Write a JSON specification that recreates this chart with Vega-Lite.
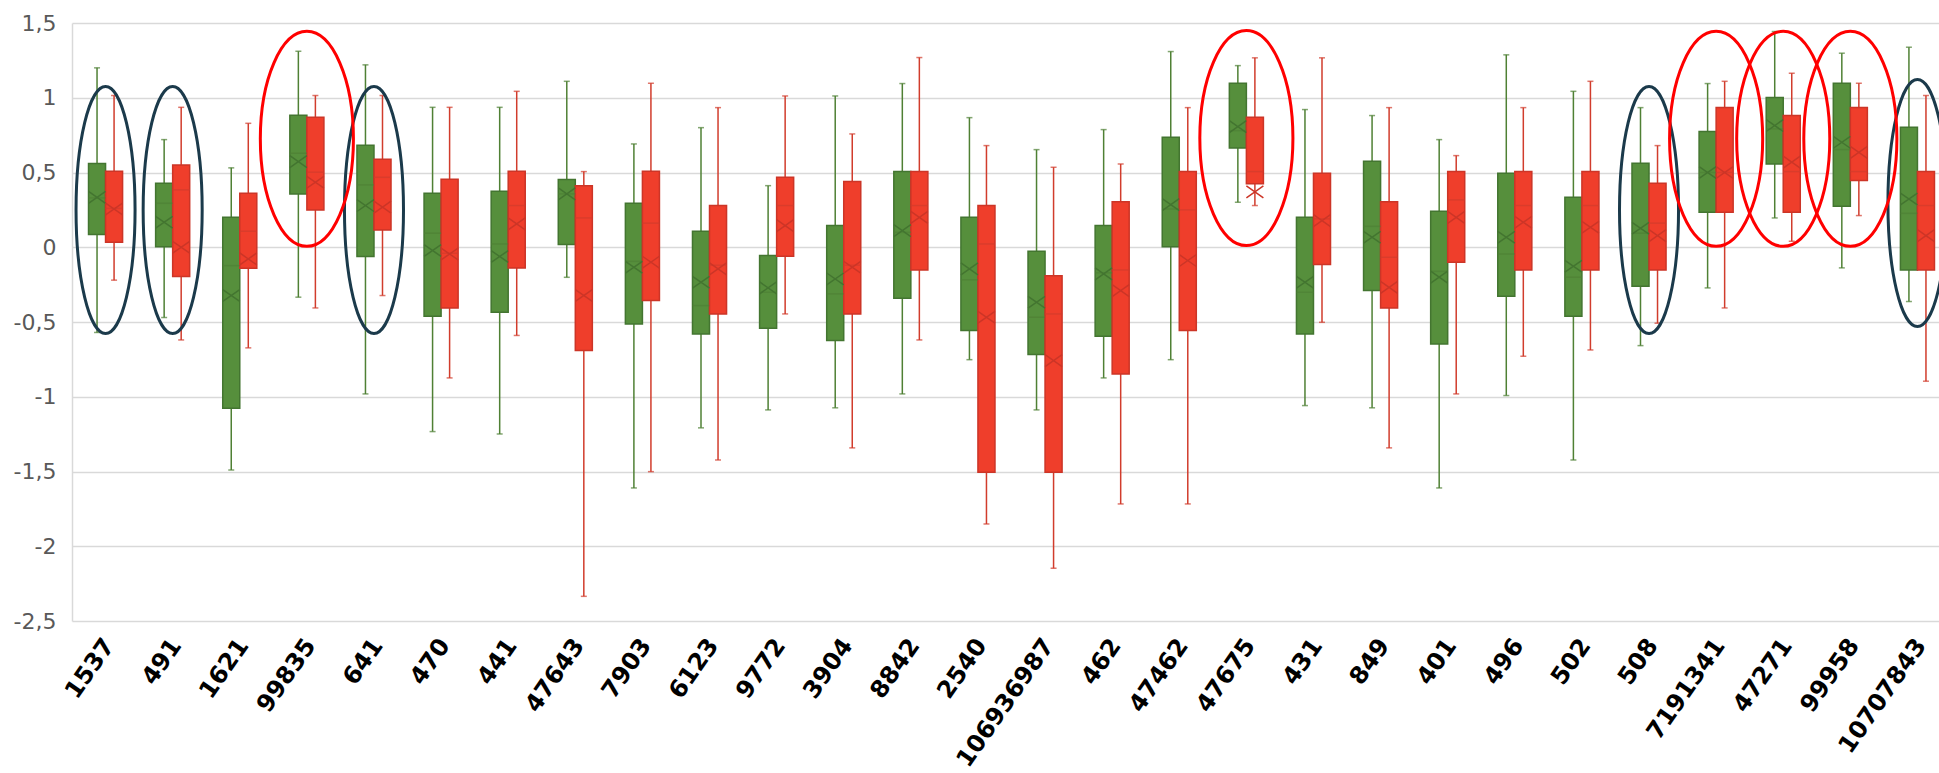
{
  "$schema": "https://vega.github.io/schema/vega-lite/v6.json",
  "width": 1867,
  "height": 598,
  "autosize": {"type": "none"},
  "padding": {"left": 72, "top": 23, "right": 0, "bottom": 152},
  "background": "white",
  "config": {"view": {"stroke": null}, "font": "DejaVu Sans"},
  "datasets": {
    "boxes": [
      {"cat": "1537", "series": "A", "min": -0.57, "q1": 0.085, "median": 0.33, "q3": 0.56, "max": 1.2, "mean": 0.334},
      {"cat": "1537", "series": "B", "min": -0.22, "q1": 0.033, "median": 0.26, "q3": 0.508, "max": 1.015, "mean": 0.256},
      {"cat": "491", "series": "A", "min": -0.47, "q1": 0.004, "median": 0.294, "q3": 0.428, "max": 0.72, "mean": 0.167},
      {"cat": "491", "series": "B", "min": -0.62, "q1": -0.196, "median": 0.384, "q3": 0.551, "max": 0.936, "mean": 0.0},
      {"cat": "1621", "series": "A", "min": -1.49, "q1": -1.077, "median": -0.123, "q3": 0.2, "max": 0.531, "mean": -0.323},
      {"cat": "1621", "series": "B", "min": -0.673, "q1": -0.14, "median": 0.107, "q3": 0.361, "max": 0.829, "mean": -0.078},
      {"cat": "99835", "series": "A", "min": -0.334, "q1": 0.357, "median": 0.629, "q3": 0.883, "max": 1.311, "mean": 0.573},
      {"cat": "99835", "series": "B", "min": -0.406, "q1": 0.25, "median": 0.502, "q3": 0.87, "max": 1.015, "mean": 0.435},
      {"cat": "641", "series": "A", "min": -0.981, "q1": -0.062, "median": 0.417, "q3": 0.682, "max": 1.22, "mean": 0.279},
      {"cat": "641", "series": "B", "min": -0.323, "q1": 0.116, "median": 0.468, "q3": 0.589, "max": 1.015, "mean": 0.268},
      {"cat": "470", "series": "A", "min": -1.233, "q1": -0.462, "median": 0.094, "q3": 0.361, "max": 0.936, "mean": -0.022},
      {"cat": "470", "series": "B", "min": -0.874, "q1": -0.406, "median": -0.04, "q3": 0.455, "max": 0.936, "mean": -0.045},
      {"cat": "441", "series": "A", "min": -1.249, "q1": -0.435, "median": 0.022, "q3": 0.375, "max": 0.936, "mean": -0.062},
      {"cat": "441", "series": "B", "min": -0.59, "q1": -0.138, "median": 0.279, "q3": 0.508, "max": 1.043, "mean": 0.156},
      {"cat": "47643", "series": "A", "min": -0.201, "q1": 0.018, "median": 0.357, "q3": 0.453, "max": 1.11, "mean": 0.357},
      {"cat": "47643", "series": "B", "min": -2.335, "q1": -0.691, "median": 0.196, "q3": 0.412, "max": 0.506, "mean": -0.323},
      {"cat": "7903", "series": "A", "min": -1.61, "q1": -0.513, "median": -0.094, "q3": 0.294, "max": 0.691, "mean": -0.134},
      {"cat": "7903", "series": "B", "min": -1.501, "q1": -0.357, "median": 0.161, "q3": 0.508, "max": 1.097, "mean": -0.1},
      {"cat": "6123", "series": "A", "min": -1.208, "q1": -0.58, "median": -0.39, "q3": 0.107, "max": 0.8, "mean": -0.234},
      {"cat": "6123", "series": "B", "min": -1.423, "q1": -0.446, "median": -0.12, "q3": 0.279, "max": 0.934, "mean": -0.145},
      {"cat": "9772", "series": "A", "min": -1.088, "q1": -0.542, "median": -0.301, "q3": -0.056, "max": 0.412, "mean": -0.272},
      {"cat": "9772", "series": "B", "min": -0.446, "q1": -0.06, "median": 0.279, "q3": 0.468, "max": 1.012, "mean": 0.145},
      {"cat": "3904", "series": "A", "min": -1.074, "q1": -0.624, "median": -0.312, "q3": 0.145, "max": 1.012, "mean": -0.212},
      {"cat": "3904", "series": "B", "min": -1.342, "q1": -0.446, "median": -0.12, "q3": 0.439, "max": 0.758, "mean": -0.134},
      {"cat": "8842", "series": "A", "min": -0.981, "q1": -0.341, "median": 0.1, "q3": 0.506, "max": 1.095, "mean": 0.111},
      {"cat": "8842", "series": "B", "min": -0.62, "q1": -0.152, "median": 0.279, "q3": 0.506, "max": 1.269, "mean": 0.2},
      {"cat": "2540", "series": "A", "min": -0.752, "q1": -0.557, "median": -0.218, "q3": 0.2, "max": 0.867, "mean": -0.145},
      {"cat": "2540", "series": "B", "min": -1.851, "q1": -1.505, "median": 0.022, "q3": 0.279, "max": 0.68, "mean": -0.468},
      {"cat": "106936987", "series": "A", "min": -1.088, "q1": -0.718, "median": -0.468, "q3": -0.027, "max": 0.653, "mean": -0.368},
      {"cat": "106936987", "series": "B", "min": -2.147, "q1": -1.505, "median": -0.446, "q3": -0.19, "max": 0.535, "mean": -0.758},
      {"cat": "462", "series": "A", "min": -0.874, "q1": -0.595, "median": -0.17, "q3": 0.145, "max": 0.787, "mean": -0.178},
      {"cat": "462", "series": "B", "min": -1.717, "q1": -0.847, "median": -0.152, "q3": 0.305, "max": 0.557, "mean": -0.29},
      {"cat": "47462", "series": "A", "min": -0.752, "q1": 0.004, "median": 0.256, "q3": 0.736, "max": 1.309, "mean": 0.285},
      {"cat": "47462", "series": "B", "min": -1.717, "q1": -0.557, "median": 0.25, "q3": 0.506, "max": 0.934, "mean": -0.089},
      {"cat": "47675", "series": "A", "min": 0.301, "q1": 0.664, "median": 0.78, "q3": 1.097, "max": 1.215, "mean": 0.807},
      {"cat": "47675", "series": "B", "min": 0.279, "q1": 0.424, "median": 0.506, "q3": 0.87, "max": 1.267, "mean": 0.37},
      {"cat": "431", "series": "A", "min": -1.059, "q1": -0.58, "median": -0.301, "q3": 0.2, "max": 0.921, "mean": -0.234},
      {"cat": "431", "series": "B", "min": -0.502, "q1": -0.116, "median": 0.19, "q3": 0.495, "max": 1.267, "mean": 0.178},
      {"cat": "849", "series": "A", "min": -1.074, "q1": -0.29, "median": 0.14, "q3": 0.575, "max": 0.881, "mean": 0.067},
      {"cat": "849", "series": "B", "min": -1.342, "q1": -0.406, "median": -0.067, "q3": 0.305, "max": 0.934, "mean": -0.268},
      {"cat": "401", "series": "A", "min": -1.61, "q1": -0.647, "median": -0.161, "q3": 0.241, "max": 0.72, "mean": -0.2},
      {"cat": "401", "series": "B", "min": -0.981, "q1": -0.1, "median": 0.317, "q3": 0.506, "max": 0.613, "mean": 0.2},
      {"cat": "496", "series": "A", "min": -0.992, "q1": -0.328, "median": -0.045, "q3": 0.495, "max": 1.287, "mean": 0.067},
      {"cat": "496", "series": "B", "min": -0.729, "q1": -0.152, "median": 0.279, "q3": 0.506, "max": 0.934, "mean": 0.167},
      {"cat": "502", "series": "A", "min": -1.423, "q1": -0.462, "median": -0.2, "q3": 0.334, "max": 1.043, "mean": -0.127},
      {"cat": "502", "series": "B", "min": -0.687, "q1": -0.152, "median": 0.279, "q3": 0.506, "max": 1.11, "mean": 0.134},
      {"cat": "508", "series": "A", "min": -0.658, "q1": -0.261, "median": 0.094, "q3": 0.562, "max": 0.934, "mean": 0.127},
      {"cat": "508", "series": "B", "min": -0.508, "q1": -0.152, "median": 0.161, "q3": 0.428, "max": 0.68, "mean": 0.078},
      {"cat": "7191341", "series": "A", "min": -0.272, "q1": 0.234, "median": 0.5, "q3": 0.774, "max": 1.095, "mean": 0.5},
      {"cat": "7191341", "series": "B", "min": -0.406, "q1": 0.234, "median": 0.5, "q3": 0.934, "max": 1.11, "mean": 0.5},
      {"cat": "47271", "series": "A", "min": 0.196, "q1": 0.557, "median": 0.792, "q3": 1.001, "max": 1.443, "mean": 0.814},
      {"cat": "47271", "series": "B", "min": 0.04, "q1": 0.234, "median": 0.506, "q3": 0.881, "max": 1.164, "mean": 0.569},
      {"cat": "99958", "series": "A", "min": -0.138, "q1": 0.274, "median": 0.653, "q3": 1.097, "max": 1.298, "mean": 0.702},
      {"cat": "99958", "series": "B", "min": 0.212, "q1": 0.446, "median": 0.506, "q3": 0.934, "max": 1.097, "mean": 0.635},
      {"cat": "10707843", "series": "A", "min": -0.363, "q1": -0.152, "median": 0.227, "q3": 0.803, "max": 1.338, "mean": 0.323},
      {"cat": "10707843", "series": "B", "min": -0.896, "q1": -0.152, "median": 0.279, "q3": 0.506, "max": 1.015, "mean": 0.078}
    ],
    "rings": [
      {"cat": "1537", "kind": "navy", "yc": 0.249},
      {"cat": "491", "kind": "navy", "yc": 0.249},
      {"cat": "641", "kind": "navy", "yc": 0.249},
      {"cat": "508", "kind": "navy", "yc": 0.249},
      {"cat": "10707843", "kind": "navy", "yc": 0.296},
      {"cat": "99835", "kind": "red", "yc": 0.725},
      {"cat": "47675", "kind": "red", "yc": 0.73},
      {"cat": "7191341", "kind": "red", "yc": 0.725},
      {"cat": "47271", "kind": "red", "yc": 0.725},
      {"cat": "99958", "kind": "red", "yc": 0.725}
    ]
  },
  "data": {"name": "boxes"},
  "encoding": {
    "x": {
      "field": "cat",
      "type": "nominal",
      "title": null,
      "scale": {
        "domain": ["1537", "491", "1621", "99835", "641", "470", "441", "47643", "7903", "6123", "9772", "3904", "8842", "2540", "106936987", "462", "47462", "47675", "431", "849", "401", "496", "502", "508", "7191341", "47271", "99958", "10707843"],
        "range": [0, 1879],
        "paddingInner": 0,
        "paddingOuter": 0
      },
      "axis": {
        "labelAngle": -55,
        "labelFontSize": 24,
        "labelFontWeight": "bold",
        "labelColor": "#000000",
        "labelFont": "DejaVu Sans",
        "ticks": false,
        "tickSize": 0,
        "domain": false,
        "grid": false,
        "labelPadding": 20,
        "labelOffset": 4,
        "labelAlign": "right",
        "labelBaseline": "middle",
        "labelOverlap": false,
        "labelBound": false
      }
    }
  },
  "layer": [
    {
      "mark": {"type": "rule", "strokeWidth": 1.5},
      "encoding": {
        "xOffset": {"field": "series", "type": "nominal", "scale": {"domain": ["A", "B"], "paddingOuter": 0.97, "paddingInner": 0}},
        "y": {
          "field": "min",
          "type": "quantitative",
          "title": null,
          "scale": {"domain": [-2.5, 1.5], "nice": false, "zero": false},
          "axis": {
            "values": [-2.5, -2, -1.5, -1, -0.5, 0, 0.5, 1, 1.5],
            "labelExpr": "replace(toString(datum.value), '.', ',')",
            "labelFontSize": 22,
            "labelColor": "#595959",
            "labelFont": "DejaVu Sans",
            "labelPadding": 16,
            "ticks": false,
            "domain": true,
            "domainColor": "#d9d9d9",
            "domainWidth": 1.5,
            "grid": true,
            "gridColor": "#d9d9d9",
            "gridWidth": 1.5
          }
        },
        "y2": {"field": "max"},
        "color": {"field": "series", "type": "nominal", "legend": null, "scale": {"domain": ["A", "B"], "range": ["#4f8034", "#d13c2c"]}}
      }
    },
    {
      "mark": {"type": "tick", "size": 6, "thickness": 1.5},
      "encoding": {
        "xOffset": {"field": "series", "type": "nominal"},
        "y": {"field": "min", "type": "quantitative", "title": null},
        "color": {"field": "series", "type": "nominal", "legend": null}
      }
    },
    {
      "mark": {"type": "tick", "size": 6, "thickness": 1.5},
      "encoding": {
        "xOffset": {"field": "series", "type": "nominal"},
        "y": {"field": "max", "type": "quantitative", "title": null},
        "color": {"field": "series", "type": "nominal", "legend": null}
      }
    },
    {
      "mark": {"type": "bar", "strokeWidth": 1.5, "opacity": 1},
      "encoding": {
        "xOffset": {"field": "series", "type": "nominal"},
        "y": {"field": "q1", "type": "quantitative", "title": null},
        "y2": {"field": "q3"},
        "fill": {"field": "series", "type": "nominal", "legend": null, "scale": {"domain": ["A", "B"], "range": ["#568f3c", "#ef3e2b"]}},
        "stroke": {"field": "series", "type": "nominal", "legend": null, "scale": {"domain": ["A", "B"], "range": ["#437530", "#cc3527"]}}
      }
    },
    {
      "mark": {"type": "tick", "size": 17, "thickness": 1.5},
      "encoding": {
        "xOffset": {"field": "series", "type": "nominal"},
        "y": {"field": "median", "type": "quantitative", "title": null},
        "color": {"field": "series", "type": "nominal", "legend": null}
      }
    },
    {
      "mark": {"type": "point", "shape": "M -1 -0.7 L 1 0.7 M -1 0.7 L 1 -0.7", "size": 289, "filled": false, "strokeWidth": 1.5, "opacity": 1},
      "encoding": {
        "xOffset": {"field": "series", "type": "nominal"},
        "y": {"field": "mean", "type": "quantitative", "title": null},
        "stroke": {"field": "series", "type": "nominal", "legend": null}
      }
    },
    {
      "data": {"name": "rings"},
      "transform": [{"filter": "datum.kind === 'navy'"}],
      "mark": {"type": "point", "shape": "M 0 -1 A 0.239 1 0 1 1 0 1 A 0.239 1 0 1 1 0 -1 Z", "size": 61009, "filled": false, "stroke": "#1b3a4b", "strokeWidth": 3, "opacity": 1},
      "encoding": {
        "y": {"field": "yc", "type": "quantitative", "title": null}
      }
    },
    {
      "data": {"name": "rings"},
      "transform": [{"filter": "datum.kind === 'red'"}],
      "mark": {"type": "point", "shape": "M 0 -1 A 0.433 1 0 1 1 0 1 A 0.433 1 0 1 1 0 -1 Z", "size": 46225, "filled": false, "stroke": "#ff0000", "strokeWidth": 3, "opacity": 1},
      "encoding": {
        "y": {"field": "yc", "type": "quantitative", "title": null}
      }
    }
  ]
}
